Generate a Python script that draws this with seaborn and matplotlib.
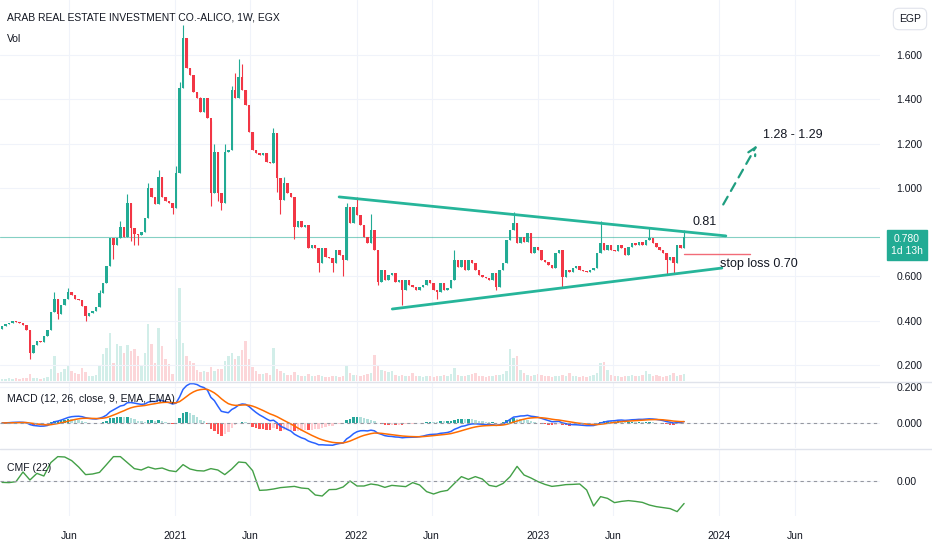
import numpy as np
import pandas as pd
import matplotlib
matplotlib.use("Agg")
import matplotlib.pyplot as plt
from matplotlib.lines import Line2D
import seaborn as sns

# ---- data (weekly candles, EGX:ALICO) ----
last_week = "2023-10-22"
first_open = 0.365
closes = [
    0.375, 0.385, 0.39, 0.40, 0.395, 0.392, 0.38, 0.36, 0.255, 0.29,
    0.31, 0.305, 0.33, 0.36, 0.44, 0.50, 0.43, 0.47, 0.50, 0.53,
    0.515, 0.50, 0.495, 0.465, 0.42, 0.435, 0.445, 0.46, 0.525, 0.57,
    0.645, 0.775, 0.74, 0.775, 0.825, 0.78, 0.93, 0.82, 0.79, 0.785,
    0.80, 0.865, 1.00, 0.96, 0.925, 1.05, 0.96, 0.94, 0.93, 0.91,
    1.067, 1.45, 1.677, 1.54, 1.51, 1.434, 1.404, 1.344, 1.404, 1.314,
    0.975, 1.164, 0.975, 0.93, 1.164, 1.171, 1.442, 1.404, 1.50, 1.442,
    1.374, 1.254, 1.171, 1.156, 1.149, 1.156, 1.118, 1.111, 1.246, 1.043,
    0.945, 1.021, 0.975, 0.96, 0.825, 0.85, 0.825, 0.83, 0.727, 0.742,
    0.727, 0.66, 0.727, 0.69, 0.682, 0.66, 0.72, 0.697, 0.675, 0.915,
    0.84, 0.915, 0.878, 0.832, 0.78, 0.75, 0.81, 0.72, 0.577, 0.629,
    0.584, 0.607, 0.614, 0.577, 0.584, 0.539, 0.584, 0.562, 0.554, 0.539,
    0.554, 0.562, 0.584, 0.569, 0.539, 0.532, 0.569, 0.539, 0.547, 0.584,
    0.674, 0.644, 0.674, 0.629, 0.674, 0.659, 0.629, 0.607, 0.599, 0.592,
    0.584, 0.614, 0.554, 0.629, 0.659, 0.765, 0.81, 0.84, 0.75, 0.78,
    0.757, 0.795, 0.705, 0.735, 0.72, 0.675, 0.667, 0.652, 0.637, 0.705,
    0.72, 0.599, 0.63, 0.62, 0.64, 0.645, 0.63, 0.625, 0.62, 0.63,
    0.637, 0.705, 0.75, 0.72, 0.742, 0.72, 0.715, 0.742, 0.727, 0.697,
    0.735, 0.75, 0.742, 0.757, 0.742, 0.765, 0.772, 0.75, 0.735, 0.72,
    0.705, 0.675, 0.69, 0.66, 0.742, 0.727, 0.78,
]
# long wicks (bar index -> price); other bars have no visible wick
high_wicks = {15: 0.53, 19: 0.55, 28: 0.54, 34: 0.85, 36: 0.97, 42: 1.02, 45: 1.08,
              50: 1.10, 51: 1.48, 52: 1.735, 53: 1.67, 55: 1.48, 57: 1.41, 59: 1.37,
              60: 1.30, 61: 1.20, 64: 1.20, 66: 1.46, 67: 1.52, 68: 1.58, 69: 1.56,
              71: 1.33, 78: 1.27, 81: 1.05, 99: 0.93, 102: 0.96, 106: 0.88, 130: 0.72,
              147: 0.89, 172: 0.85, 186: 0.82, 196: 0.81}
low_wicks = {8: 0.227, 16: 0.41, 24: 0.40, 32: 0.68, 37: 0.76, 38: 0.74, 39: 0.74,
             49: 0.88, 60: 0.92, 62: 0.94, 63: 0.90, 79: 0.98, 80: 0.88, 84: 0.77,
             91: 0.62, 95: 0.62, 98: 0.60, 108: 0.56, 115: 0.47, 125: 0.50, 142: 0.54,
             161: 0.55, 191: 0.61, 193: 0.61}
volumes = [
    2, 2, 3, 2, 3, 2, 3, 3, 7, 3,
    3, 2, 3, 4, 12, 25, 8, 9, 12, 16,
    10, 8, 7, 13, 9, 5, 5, 6, 15, 27,
    33, 48, 18, 37, 35, 28, 36, 30, 32, 25,
    15, 28, 57, 37, 18, 53, 35, 22, 17, 7,
    42, 93, 38, 25, 20, 18, 11, 9, 10, 9,
    14, 10, 12, 12, 20, 25, 28, 22, 25, 31,
    40, 22, 14, 10, 7, 7, 8, 6, 33, 12,
    10, 8, 6, 6, 9, 6, 5, 5, 7, 5,
    5, 6, 5, 4, 4, 5, 5, 4, 5, 16,
    8, 6, 6, 5, 6, 7, 8, 26, 15, 11,
    10, 9, 10, 6, 5, 6, 5, 5, 8, 5,
    5, 4, 5, 5, 4, 5, 5, 6, 5, 7,
    13, 6, 5, 5, 6, 7, 8, 5, 5, 4,
    5, 5, 6, 6, 7, 10, 32, 23, 25, 11,
    8, 6, 5, 6, 7, 6, 5, 5, 4, 5,
    5, 6, 5, 8, 5, 5, 4, 5, 4, 5,
    6, 8, 18, 19, 11, 6, 5, 5, 4, 5,
    5, 6, 5, 5, 6, 10, 7, 5, 6, 5,
    4, 5, 6, 8, 5, 6, 7,
]
# CMF(22), read every second week
cmf_2w = [
    -0.011, -0.013, -0.005, 0.072, 0.008, 0.061, 0.040, 0.147, 0.195, 0.192,
    0.163, 0.112, 0.051, 0.056, 0.069, 0.131, 0.195, 0.195, 0.147, 0.099,
    0.088, 0.112, 0.096, 0.104, 0.083, 0.075, 0.131, 0.096, 0.083, 0.080,
    0.099, 0.088, 0.051, 0.096, 0.152, 0.147, 0.083, -0.075, -0.072, -0.064,
    -0.053, -0.048, -0.043, -0.056, -0.061, -0.112, -0.120, -0.069, -0.067, -0.048,
    0.000, -0.040, -0.040, -0.024, -0.032, -0.051, -0.035, -0.040, -0.045, -0.013,
    -0.032, -0.085, -0.104, -0.085, -0.075, -0.019, 0.035, 0.013, 0.035, 0.016,
    -0.035, -0.045, -0.019, 0.035, 0.117, 0.048, 0.024, -0.005, -0.027, -0.043,
    -0.037, -0.029, -0.027, -0.024, -0.072, -0.200, -0.125, -0.139, -0.173, -0.163,
    -0.157, -0.163, -0.171, -0.192, -0.205, -0.213, -0.221, -0.245, -0.180,
]

# drawings on the chart
upper_trend = [("2021-11-27", 0.959), ("2024-01-14", 0.783)]
lower_trend = [("2022-03-14", 0.453), ("2024-01-06", 0.638)]
stop_line = [("2023-10-22", 0.70), ("2024-03-02", 0.70)]
target_arrow = [("2024-01-06", 0.914), ("2024-03-19", 1.203)]
notes = [("2023-11-07", 0.846, "0.81"),
         ("2024-01-02", 0.656, "stop loss 0.70"),
         ("2024-03-29", 1.239, "1.28 - 1.29")]

price_ticks = [0.2, 0.4, 0.6, 1.0, 1.2, 1.4, 1.6]
time_ticks = ["2020-06-01", "2021-01-01", "2021-06-01", "2022-01-01", "2022-06-01",
              "2023-01-01", "2023-06-01", "2024-01-01", "2024-06-01"]
time_labels = ["Jun", "2021", "Jun", "2022", "Jun", "2023", "Jun", "2024", "Jun"]

UP, DOWN = "#22ab94", "#f23645"
TXT = "#131722"

# ---- frame ----
dates = pd.date_range(end=last_week, periods=len(closes), freq="7D")
df = pd.DataFrame({"date": dates, "close": closes, "volume": volumes})
df["open"] = [first_open] + closes[:-1]
df["high"] = df[["open", "close"]].max(axis=1)
df["low"] = df[["open", "close"]].min(axis=1)
for i, v in high_wicks.items():
    df.loc[i, "high"] = v
for i, v in low_wicks.items():
    df.loc[i, "low"] = v
df["up"] = df["close"] >= df["open"]

ema12 = df["close"].ewm(span=12, adjust=False).mean()
ema26 = df["close"].ewm(span=26, adjust=False).mean()
df["macd"] = ema12 - ema26
df["signal"] = df["macd"].ewm(span=9, adjust=False).mean()
df["hist"] = df["macd"] - df["signal"]

sns.set_style("white")
plt.rcParams["font.family"] = ["Liberation Sans", "DejaVu Sans"]

W, H = 932, 550
fig = plt.figure(figsize=(W / 100, H / 100), dpi=100)


def pane(top, bottom):
    return [0, 1 - bottom / H, 880 / W, (bottom - top) / H]


ax = fig.add_axes(pane(0, 381))
ax_m = fig.add_axes(pane(382, 448), sharex=ax)
ax_c = fig.add_axes(pane(450, 516), sharex=ax)
ax_v = ax.twinx()
ax.set_zorder(ax_v.get_zorder() + 1)
ax.patch.set_visible(False)

t_last = pd.Timestamp(last_week)
x_lo = t_last - pd.Timedelta(weeks=196.6)
x_hi = t_last + pd.Timedelta(weeks=56.3)

# volume
vol_col = np.where(df["up"], UP, DOWN)
ax_v.bar(df["date"], df["volume"], width=5, color=vol_col, alpha=0.2, lw=0)
ax_v.set_ylim(0, max(volumes) * 381 / 93)
ax_v.set_yticks([])

# candles
cols = np.where(df["up"], UP, DOWN)
ax.vlines(df["date"], df["low"], df["high"], color=cols, lw=0.8, zorder=3)
body = (df["close"] - df["open"]).abs().clip(lower=0.004)
ax.bar(df["date"], body, bottom=df[["open", "close"]].min(axis=1), width=5,
       color=cols, lw=0, zorder=4)

ax.axhline(closes[-1], color=UP, lw=0.8, alpha=0.55, zorder=2)
for line in (upper_trend, lower_trend):
    ax.plot([pd.Timestamp(p[0]) for p in line], [p[1] for p in line],
            color="#26b59a", lw=2, solid_capstyle="round", zorder=5)
ax.plot([pd.Timestamp(p[0]) for p in stop_line], [p[1] for p in stop_line],
        color="#f26b78", lw=1, zorder=5)
ax.annotate("", xy=(pd.Timestamp(target_arrow[1][0]), target_arrow[1][1]),
            xytext=(pd.Timestamp(target_arrow[0][0]), target_arrow[0][1]),
            arrowprops=dict(arrowstyle="->", color="#1f9e80", lw=1.6,
                            linestyle=(0, (4, 3)), mutation_scale=14), zorder=6)
for d, p, s in notes:
    ax.text(pd.Timestamp(d), p, s, fontsize=9, color=TXT, va="center", ha="left", zorder=7)

ax.set_ylim(0.128, 1.848)
ax.set_yticks(price_ticks)
ax.set_yticklabels([f"{v:.3f}" for v in price_ticks])

# MACD
hist = df["hist"].values
prev = np.r_[0, hist[:-1]]
hcol = np.where(hist >= 0, np.where(hist > prev, "#26a69a", "#b2dfdb"),
                np.where(hist < prev, "#ff5252", "#ffcdd2"))
ax_m.bar(df["date"], hist, width=5, color=hcol, lw=0)
sns.lineplot(x=df["date"], y=df["macd"], ax=ax_m, color="#2962ff", lw=1.1)
sns.lineplot(x=df["date"], y=df["signal"], ax=ax_m, color="#ff6d00", lw=1.1)
ax_m.axhline(0, color="#9598a1", lw=0.8, ls=(0, (3, 3)))
ax_m.set_ylim(-0.139, 0.228)
ax_m.set_yticks([0.0, 0.2])
ax_m.set_yticklabels(["0.000", "0.200"])

# CMF
sns.lineplot(x=df["date"].iloc[::2].values, y=cmf_2w, ax=ax_c, color="#43a047", lw=1)
ax_c.axhline(0, color="#9598a1", lw=0.8, ls=(0, (3, 3)))
ax_c.set_ylim(-0.28, 0.248)
ax_c.set_yticks([0.0])
ax_c.set_yticklabels(["0.00"])

for a in (ax, ax_m, ax_c):
    a.set_xlim(x_lo, x_hi)
    a.set_xticks(pd.to_datetime(time_ticks))
    a.grid(True, color="#f0f3fa", lw=0.8)
    a.set_axisbelow(True)
    a.yaxis.tick_right()
    a.tick_params(axis="y", length=0, pad=12, labelsize=7.5, labelcolor=TXT)
    a.tick_params(axis="x", length=0, pad=11, labelsize=7.5, labelcolor=TXT)
    a.set_xlabel("")
    a.set_ylabel("")
    for s in a.spines.values():
        s.set_visible(False)
for s in ax_v.spines.values():
    s.set_visible(False)
ax_c.set_xticklabels(time_labels)
plt.setp(ax.get_xticklabels(), visible=False)
plt.setp(ax_m.get_xticklabels(), visible=False)

# pane separators
for yy in (381.5, 449):
    fig.add_artist(Line2D([0, 1], [1 - yy / H] * 2, transform=fig.transFigure,
                          color="#e0e3eb", lw=1))

# legends / labels
fig.text(7 / W, 1 - 17 / H, "ARAB REAL ESTATE INVESTMENT CO.-ALICO, 1W, EGX",
         fontsize=7.5, color=TXT, va="center")
fig.text(7 / W, 1 - 39 / H, "Vol", fontsize=7.5, color=TXT, va="center")
fig.text(7 / W, 1 - 399 / H, "MACD (12, 26, close, 9, EMA, EMA)", fontsize=7.5, color=TXT, va="center")
fig.text(7 / W, 1 - 468 / H, "CMF (22)", fontsize=7.5, color=TXT, va="center")
fig.text(910 / W, 1 - 19 / H, "EGP", fontsize=7.5, color=TXT, ha="center", va="center",
         bbox=dict(boxstyle="round,pad=0.55", fc="white", ec="#e0e3eb", lw=0.8))
fig.text(907 / W, 1 - 245 / H, f"{closes[-1]:.3f}\n1d 13h", fontsize=7.5, color="white",
         ha="center", va="center", linespacing=1.35,
         bbox=dict(boxstyle="square,pad=0.35", fc=UP, ec=UP))

fig.savefig("out.png", dpi=100)
